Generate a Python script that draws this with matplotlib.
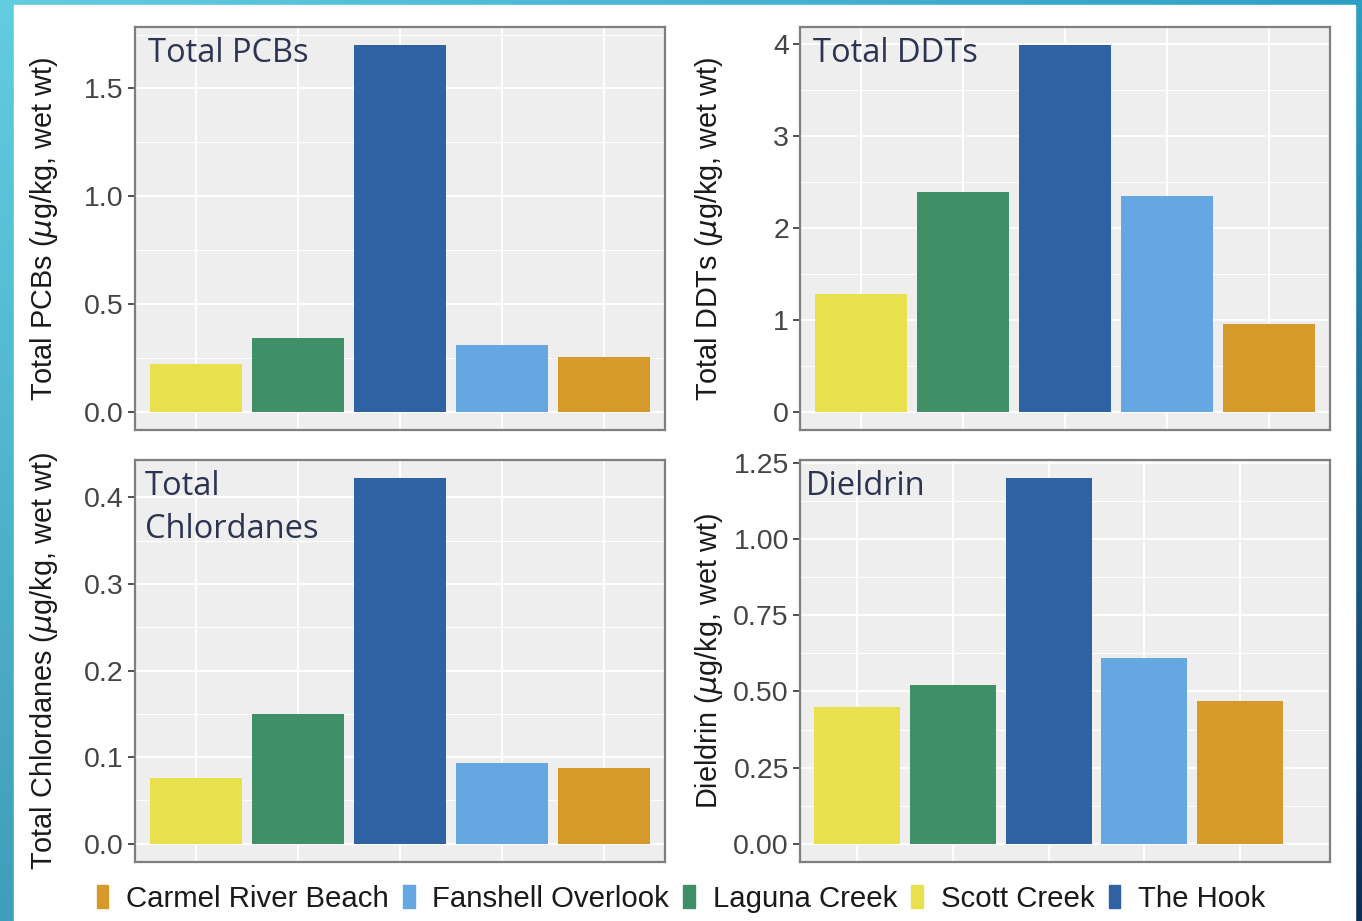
import numpy as np
import matplotlib
matplotlib.use("Agg")
import matplotlib.pyplot as plt
import matplotlib.ticker as plticker
from matplotlib.patches import Patch, Rectangle

# sites in plotting order (left to right in each panel)
sites = ["Scott Creek", "Laguna Creek", "The Hook", "Fanshell Overlook", "Carmel River Beach"]
site_colors = ["#E8E04D", "#3F8F67", "#2E62A3", "#65A7E1", "#D69A2B"]

# legend is alphabetical
legend_sites = ["Carmel River Beach", "Fanshell Overlook", "Laguna Creek", "Scott Creek", "The Hook"]

# concentrations (ug/kg, wet wt)
pcbs = [0.22, 0.34, 1.70, 0.31, 0.255]
ddts = [1.28, 2.39, 3.99, 2.35, 0.96]
chlordanes = [0.076, 0.15, 0.422, 0.093, 0.088]
dieldrin = [0.45, 0.52, 1.20, 0.61, 0.47]

plt.rcParams["font.family"] = ["Liberation Sans", "DejaVu Sans"]
plt.rcParams["mathtext.fontset"] = "dejavusans"

W, H = 1362, 921
fig = plt.figure(figsize=(W / 100, H / 100), dpi=100)

# slide background: teal/blue gradient with a white card on top
bg = fig.add_axes([0, 0, 1, 1], zorder=-10)
bg.set_axis_off()
tl = np.array([0x62, 0xCC, 0xE0]) / 255
tr = np.array([0x2E, 0x9F, 0xC4]) / 255
bl = np.array([0x3F, 0x9E, 0xBB]) / 255
br = np.array([0x0D, 0x2E, 0x57]) / 255
u = np.linspace(0, 1, 64)[None, :, None]
v = np.linspace(0, 1, 64)[:, None, None]
grad = (1 - u) * (1 - v) * tl + u * (1 - v) * tr + (1 - u) * v * bl + u * v * br
bg.imshow(grad, extent=(0, 1, 0, 1), aspect="auto", origin="upper")
bg.add_patch(Rectangle((14 / W, 0), (1355 - 14) / W, 1 - 5 / H,
                       transform=bg.transAxes, color="white", zorder=2))
bg.set_xlim(0, 1)
bg.set_ylim(0, 1)

panels = [
    # data, title, ylabel, rect(px), tick step, fmt, xmax, title x
    (pcbs, "Total PCBs", "Total PCBs", (135, 27, 665, 430), 0.5, "%.1f", 5.6, 0.024),
    (ddts, "Total DDTs", "Total DDTs", (800, 27, 1330, 430), 1.0, "%d", 5.6, 0.024),
    (chlordanes, "Total\nChlordanes", "Total Chlordanes", (135, 460, 665, 862), 0.1, "%.1f", 5.6, 0.018),
    (dieldrin, "Dieldrin", "Dieldrin", (800, 460, 1330, 862), 0.25, "%.2f", 5.94, 0.012),
]

x = np.arange(1, len(sites) + 1)

for vals, title, ylab, (x0, y0, x1, y1), step, fmt, xmax, tx in panels:
    ax = fig.add_axes([x0 / W, 1 - y1 / H, (x1 - x0) / W, (y1 - y0) / H])
    ax.set_facecolor("#EEEEEE")
    ax.bar(x, vals, width=0.9, color=site_colors, zorder=3)

    top = max(vals)
    ax.set_ylim(-0.05 * top, 1.05 * top)
    ax.set_xlim(0.4, xmax)

    ax.yaxis.set_major_locator(plticker.MultipleLocator(step))
    ax.yaxis.set_minor_locator(plticker.MultipleLocator(step / 2))
    ax.yaxis.set_major_formatter(plticker.FormatStrFormatter(fmt))
    ax.set_xticks(x)
    ax.set_xticklabels([])
    ax.tick_params(axis="x", length=0)
    ax.tick_params(axis="y", which="major", length=5, width=1.2, color="#333333",
                   labelsize=20.5, labelcolor="#444444", pad=3)
    ax.tick_params(axis="y", which="minor", length=0)

    ax.grid(True, which="major", color="white", linewidth=1.4, zorder=0)
    ax.grid(True, which="minor", axis="y", color="white", linewidth=0.7, zorder=0)
    ax.set_axisbelow(True)

    for s in ax.spines.values():
        s.set_color("#7F7F7F")
        s.set_linewidth(1.6)

    ax.set_ylabel(ylab + r" ($\mu$g/kg, wet wt)", fontsize=20.8, color="#1A1A1A")
    ax.yaxis.set_label_coords(-0.142, 0.5)

    ax.text(tx, 0.975, title, transform=ax.transAxes, ha="left", va="top",
            fontsize=23.5, color="#2C3452", family=["Open Sans", "DejaVu Sans"],
            linespacing=1.4, zorder=5)

handles = [Patch(color=site_colors[sites.index(s)], label=s) for s in legend_sites]
fig.legend(handles=handles, loc="center", ncol=5, frameon=False,
           bbox_to_anchor=(681 / W, 1 - 899 / H), fontsize=21.2,
           handlelength=0.4, handleheight=0.82, handletextpad=0.6,
           columnspacing=0.48, labelcolor="#1A1A1A")

fig.savefig("out.png", dpi=100)
